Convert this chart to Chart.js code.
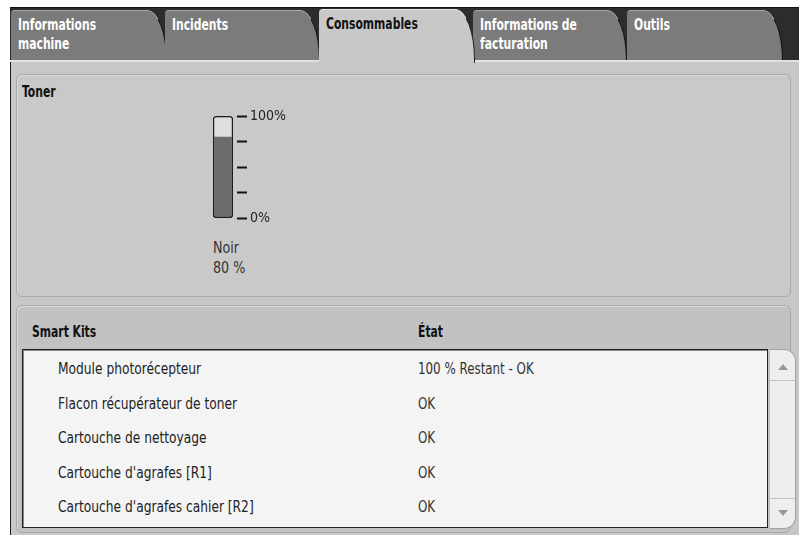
<!DOCTYPE html>
<html>
<head>
<meta charset="utf-8">
<script src="https://cdn.jsdelivr.net/npm/chart.js@4.4.0/dist/chart.umd.min.js"></script>
<style>
  body { margin: 0; width: 799px; height: 535px; background: #fff; position: relative; overflow: hidden;
         font-family: "DejaVu Sans Condensed", sans-serif; }
  .narrow { display: inline-block; transform-origin: 0 0; white-space: nowrap; }
  .tabbar { position: absolute; left: 10px; top: 7px; width: 789px; height: 55px; background: #2c2c2c; border-top: 1px solid #111; }
  .tab { position: absolute; top: 10px; height: 50px; background: #7b7b7b; color: #fff; font-weight: bold;
         font-size: 15px; line-height: 19px; padding: 5px 0 0 7px; box-sizing: border-box;
         border-top-left-radius: 4px; border-top-right-radius: 20px 50px;
         border-top: 1px solid #a8a8a8; border-right: 1px solid #111; }
  .tab .narrow { transform: scaleX(0.8); }
  .tab.active { top: 9px; height: 54px; background: #c8c8c8; color: #111; border-top-color: #e6e6e6; border-right-color: #222; z-index: 2; }
  .tabline { position: absolute; left: 10px; top: 60px; width: 789px; height: 2px; background: #e2e2e2; z-index: 1; }
  .content { position: absolute; left: 10px; top: 62px; right: 0; bottom: 0; background: #c7c7c7; border-left: 1px solid #222; }
  .panel { position: absolute; border: 1px solid #a9a9a9; border-radius: 6px; box-shadow: inset 1px 1px 0 #dadada; background: #c9c9c9; }
  .title { position: absolute; font-weight: bold; font-size: 15px; color: #111; transform: scaleX(0.8); transform-origin: 0 0; }
  .label { position: absolute; font-size: 16px; color: #333; transform: scaleX(0.88); transform-origin: 0 0; }
  .table { position: absolute; left: 22px; top: 349px; width: 746px; height: 179px; background: #f4f4f4;
           border: 1px solid #222; box-sizing: border-box; box-shadow: inset 1px 1px 0 #888; }
  .row { position: absolute; left: 0; width: 100%; height: 34px; color: #222; line-height: 34px; }
  .row .name { position: absolute; left: 35px; font-size: 16px; transform: scaleX(0.85); transform-origin: 0 0; }
  .row .state { position: absolute; left: 395px; font-size: 15px; color: #333; transform: scaleX(0.88); transform-origin: 0 0; }
  .scroll { position: absolute; left: 770px; top: 349px; width: 26px; height: 180px; background: #eeeeee; box-sizing: border-box;
            border: 1px solid #a0a0a0; border-left: none; border-radius: 0 12px 12px 0; }
  .arrow { position: absolute; left: 8px; width: 0; height: 0; border-left: 5px solid transparent; border-right: 5px solid transparent; }
  #gauge { position: absolute; left: 205px; top: 104px; }
</style>
</head>
<body>
<div class="tabbar"></div>
<div id="tabs"></div>
<div class="tabline"></div>
<div class="content"></div>

<div class="panel" style="left:16px; top:74px; width:773px; height:221px;"></div>
<div class="title" style="left:22px; top:83px;">Toner</div>
<canvas id="gauge" width="86" height="126"></canvas>
<div class="label" id="colorName" style="left:213px; top:238px;"></div>
<div class="label" id="colorLevel" style="left:213px; top:258px;"></div>

<div class="panel" style="left:16px; top:305px; width:773px; height:226px; background:#c2c2c2;"></div>
<div class="title" style="left:32px; top:323px;" id="kitHead"></div>
<div class="title" style="left:418px; top:323px;" id="stateHead"></div>
<div class="table" id="kitTable"></div>
<div class="scroll">
  <div class="arrow" style="top:14px; border-bottom:6px solid #9a9a9a;"></div>
  <div style="position:absolute; left:0; top:30px; width:25px; height:1px; background:#c4c4c4;"></div>
  <div style="position:absolute; left:0; top:148px; width:25px; height:1px; background:#c4c4c4;"></div>
  <div class="arrow" style="top:160px; border-top:6px solid #9a9a9a;"></div>
</div>

<script>
// tabs
const tabLabels = ['Informations<br>machine', 'Incidents', 'Consommables', 'Informations de<br>facturation', 'Outils'];
const tabLefts = [11, 165, 319, 473, 627];
const tabWidths = [156, 155, 156, 154, 156];
const activeTab = 2;

// toner gauge
const tonerColors = ['Noir'];
const tonerLevels = [80];
const tonerCapacity = [100];
const tickValues = [0, 25, 50, 75, 100];
const tickLabels = ['0%', '', '', '', '100%'];

// smart kits
const kitHeaders = ['Smart Kits', 'État'];
const kitNames = ['Module photorécepteur', 'Flacon récupérateur de toner', 'Cartouche de nettoyage',
                  "Cartouche d'agrafes [R1]", "Cartouche d'agrafes cahier [R2]"];
const kitStates = ['100 % Restant - OK', 'OK', 'OK', 'OK', 'OK'];

const tabsEl = document.getElementById('tabs');
tabLabels.forEach((t, i) => {
    const d = document.createElement('div');
    d.className = 'tab' + (i === activeTab ? ' active' : '');
    d.style.left = tabLefts[i] + 'px';
    d.style.width = tabWidths[i] + 'px';
    d.innerHTML = `<span class="narrow">${t}</span>`;
    tabsEl.appendChild(d);
});

document.getElementById('colorName').textContent = tonerColors[0];
document.getElementById('colorLevel').textContent = tonerLevels[0] + ' %';
document.getElementById('kitHead').textContent = kitHeaders[0];
document.getElementById('stateHead').textContent = kitHeaders[1];

const table = document.getElementById('kitTable');
kitNames.forEach((name, i) => {
    const r = document.createElement('div');
    r.className = 'row';
    r.style.top = (2 + i * 34.5) + 'px';
    r.innerHTML = `<span class="name">${name}</span><span class="state">${kitStates[i]}</span>`;
    table.appendChild(r);
});

const ctx = document.getElementById('gauge').getContext('2d');
new Chart(ctx, {
    type: 'bar',
    data: {
        labels: tonerColors,
        datasets: [{
            label: tonerColors[0],
            data: tonerLevels,
            backgroundColor: '#6c6c6c',
            borderColor: '#1c1c1c',
            borderWidth: { left: 1.5, right: 1.5, bottom: 1.5, top: 0 },
            borderRadius: { bottomLeft: 3, bottomRight: 3, topLeft: 0, topRight: 0 },
            borderSkipped: false,
            grouped: false,
            order: 0,
            barPercentage: 0.72,
            categoryPercentage: 1
        }, {
            label: 'Capacité',
            data: tonerCapacity,
            backgroundColor: '#dedede',
            borderColor: '#1c1c1c',
            borderWidth: 1.5,
            borderRadius: 3,
            borderSkipped: false,
            grouped: false,
            order: 1,
            barPercentage: 0.72,
            categoryPercentage: 1
        }]
    },
    options: {
        responsive: false,
        animation: false,
        layout: { padding: { left: 4, top: 12, bottom: 8, right: 0 } },
        plugins: { legend: { display: false }, tooltip: { enabled: false } },
        scales: {
            x: { display: false },
            y: {
                position: 'right',
                min: 0,
                max: 100,
                afterBuildTicks: scale => { scale.ticks = tickValues.map(v => ({ value: v })); },
                afterFit: scale => { scale.width = 54; },
                border: { display: false },
                grid: { drawOnChartArea: false, tickLength: 10, tickWidth: 2, color: '#111' },
                ticks: {
                    padding: 3,
                    color: '#222',
                    font: { family: '"DejaVu Sans Condensed", sans-serif', size: 14 },
                    callback: v => tickLabels[tickValues.indexOf(v)]
                }
            }
        }
    }
});
</script>
</body>
</html>
